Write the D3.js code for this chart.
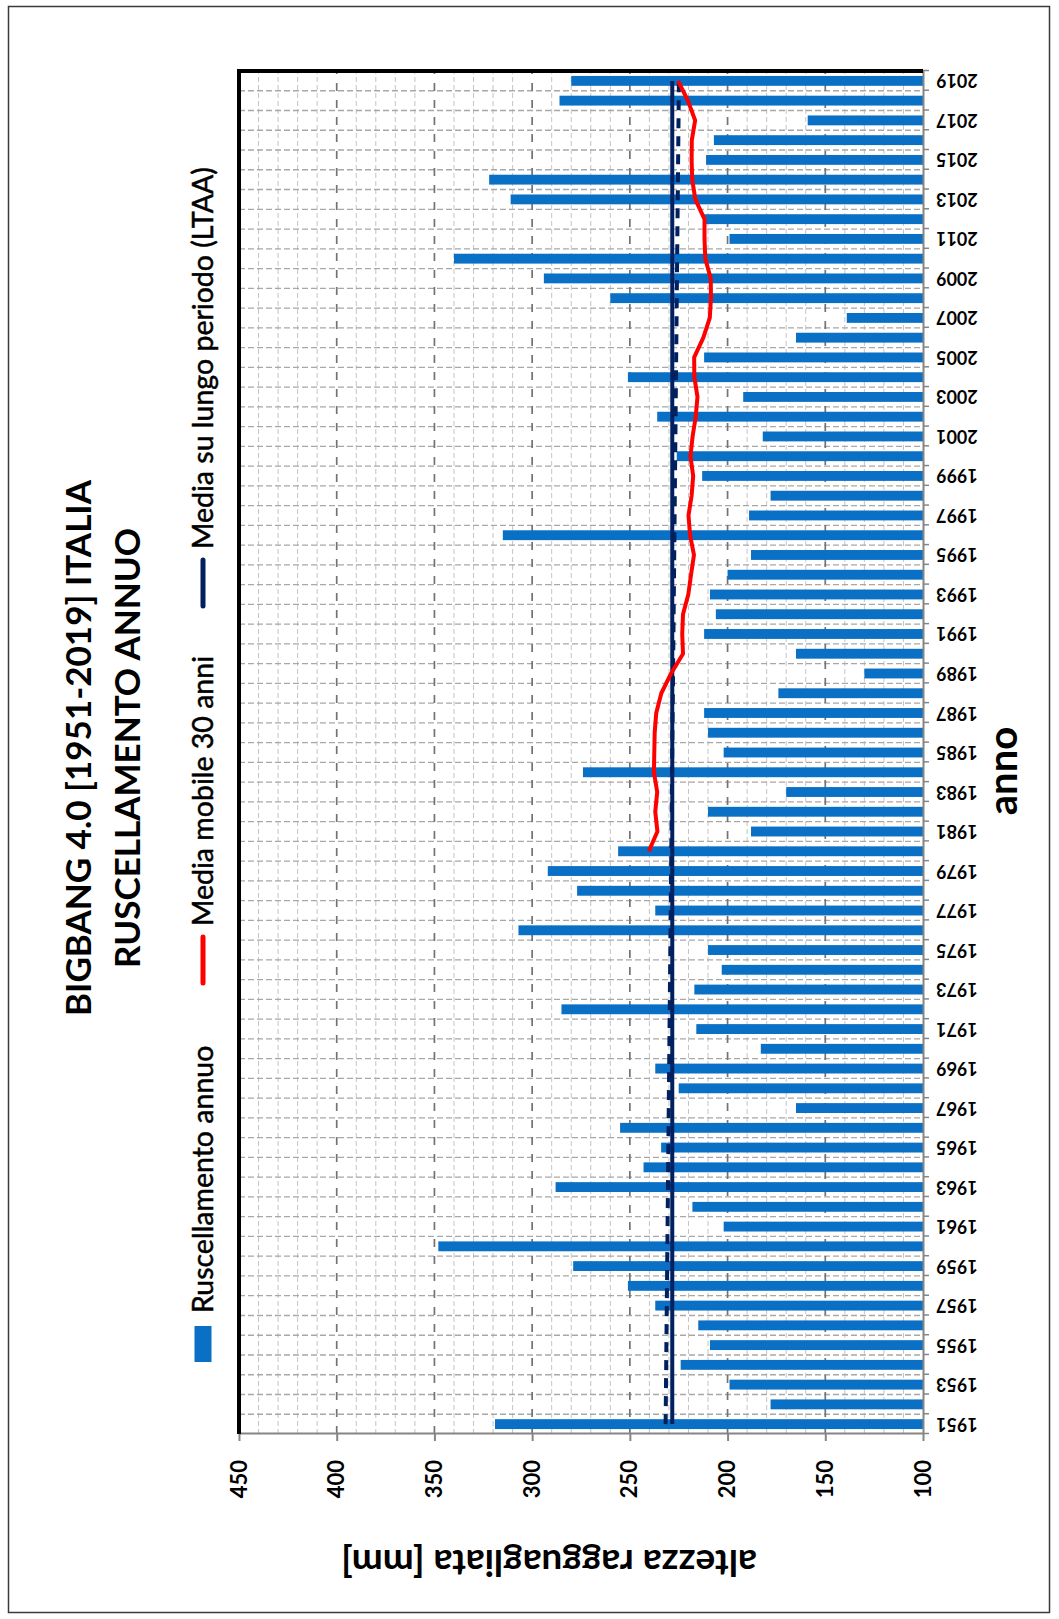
<!DOCTYPE html>
<html>
<head>
<meta charset="utf-8">
<script src="https://cdn.jsdelivr.net/npm/d3@7"></script>
<style>
  html, body { margin: 0; padding: 0; background: #ffffff; }
  svg { display: block; }
  text { font-family: Lato, "Open Sans", "Liberation Sans", sans-serif; }
</style>
</head>
<body>
<svg id="chart" width="1059" height="1619"></svg>
<script>
// ---------------- DATA ----------------
const years = d3.range(1951, 2020);
const runoff = [
  319, 178, 199, 224, 209, 215, 237, 251, 279, 348,
  202, 218, 288, 243, 234, 255, 165, 225, 237, 183,
  216, 285, 217, 203, 210, 307, 237, 277, 292, 256,
  188, 210, 170, 274, 202, 210, 212, 174, 130, 165,
  212, 206, 209, 200, 188, 315, 189, 178, 213, 226,
  182, 236, 192, 251, 212, 165, 139, 260, 294, 340,
  199, 212, 311, 322, 211, 207, 159, 286, 280
];
const maYears = d3.range(1980, 2020);
const movingAvg = [
  240.3, 235.9, 237.0, 236.0, 237.7, 237.5, 237.3, 236.5, 233.9, 228.9,
  222.8, 223.2, 222.8, 220.1, 218.7, 217.2, 219.2, 220.0, 218.4, 217.6,
  219.0, 217.9, 216.3, 215.4, 217.0, 217.1, 212.4, 209.1, 208.5, 208.6,
  211.4, 211.8, 211.8, 216.5, 218.1, 218.4, 218.3, 216.6, 220.3, 225.3
];
const ltaaValue = 228.3;
const trendYears = [1951, 2019];
const trendValues = [231.7, 224.9];
const valueTicks = [100, 150, 200, 250, 300, 350, 400, 450];
const yearLabels = years.filter(y => y % 2 === 1);
const titleLines = ["BIGBANG 4.0 [1951-2019] ITALIA", "RUSCELLAMENTO ANNUO"];
const legendLabels = ["Ruscellamento annuo", "Media mobile 30 anni", "Media su lungo periodo (LTAA)"];
const yAxisTitle = "altezza ragguagliata [mm]";
const xAxisTitle = "anno";

// ---------------- COLORS ----------------
const BAR = "#0A70C6", RED = "#FF0000", NAVY = "#002060";

const svg = d3.select("#chart");
svg.append("rect").attr("width", 1059).attr("height", 1619).attr("fill", "#fff");
// outer frame
svg.append("rect").attr("x", 8.5).attr("y", 6.5).attr("width", 1041).attr("height", 1606)
  .attr("fill", "none").attr("stroke", "#3a3a3a").attr("stroke-width", 1.5);

// chart drawn in its natural orientation, then rotated 90° counter-clockwise
const g = svg.append("g").attr("transform", `translate(0,${1619}) rotate(-90)`);

const plot = {left: 185, right: 1548, top: 239, bottom: 923};

const x = d3.scaleBand().domain(years).range([plot.left, plot.right])
  .paddingInner(0.5).paddingOuter(0.25);
const y = d3.scaleLinear().domain([100, 450]).range([plot.bottom, plot.top]);
const xb = d3.scaleLinear().domain([0, years.length]).range([plot.left, plot.right]);

// minor value gridlines
const minorVals = d3.range(110, 451, 10).filter(v => v % 50 !== 0);
g.append("g").selectAll("line").data(minorVals).join("line")
  .attr("x1", plot.left).attr("x2", plot.right)
  .attr("y1", d => y(d)).attr("y2", d => y(d))
  .attr("stroke", "#c4c4c4").attr("stroke-width", 1).attr("stroke-dasharray", "5,3");

// category gridlines (between years)
g.append("g").selectAll("line").data(d3.range(1, years.length)).join("line")
  .attr("x1", d => xb(d)).attr("x2", d => xb(d))
  .attr("y1", plot.top).attr("y2", plot.bottom)
  .attr("stroke", "#a8a8a8").attr("stroke-width", 1.3).attr("stroke-dasharray", "6,3");

// major value gridlines
g.append("g").selectAll("line").data(valueTicks.filter(v => v > 100 && v < 450)).join("line")
  .attr("x1", plot.left).attr("x2", plot.right)
  .attr("y1", d => y(d)).attr("y2", d => y(d))
  .attr("stroke", "#737373").attr("stroke-width", 1.7).attr("stroke-dasharray", "8,9");

// bars
g.append("g").selectAll("rect").data(years).join("rect")
  .attr("x", d => x(d))
  .attr("width", x.bandwidth())
  .attr("y", (d, i) => y(runoff[i]))
  .attr("height", (d, i) => y(100) - y(runoff[i]))
  .attr("fill", BAR);

// LTAA line
const cx = d => x(d) + x.bandwidth() / 2;
g.append("line")
  .attr("x1", cx(years[0])).attr("x2", cx(years[years.length - 1]))
  .attr("y1", y(ltaaValue)).attr("y2", y(ltaaValue))
  .attr("stroke", NAVY).attr("stroke-width", 4);
// trend line (dashed)
g.append("path")
  .datum(trendYears.map((yr, i) => [yr, trendValues[i]]))
  .attr("d", d3.line().x(d => cx(d[0])).y(d => y(d[1])))
  .attr("fill", "none").attr("stroke", NAVY).attr("stroke-width", 4)
  .attr("stroke-dasharray", "10,8");
// moving average
g.append("path")
  .datum(maYears.map((yr, i) => [yr, movingAvg[i]]))
  .attr("d", d3.line().x(d => cx(d[0])).y(d => y(d[1])))
  .attr("fill", "none").attr("stroke", RED).attr("stroke-width", 4)
  .attr("stroke-linejoin", "round");

// value axis (left in chart orientation)
const yAxis = g.append("g").attr("transform", `translate(${plot.left},0)`)
  .call(d3.axisLeft(y).tickValues(valueTicks).tickSize(7).tickSizeOuter(0).tickPadding(19));
yAxis.select(".domain").attr("stroke", "#858585").attr("stroke-width", 2);
yAxis.selectAll(".tick line").attr("stroke", "#858585").attr("stroke-width", 2);
yAxis.selectAll(".tick text").attr("font-size", 22).attr("font-weight", 700).attr("fill", "#000")
  .style("font-family", "Lato, 'Open Sans', sans-serif");

// category axis (bottom in chart orientation): ticks between categories
const xTicks = g.append("g").attr("transform", `translate(0,${plot.bottom})`)
  .call(d3.axisBottom(xb).tickValues(d3.range(0, years.length + 1)).tickSize(6).tickSizeOuter(0).tickFormat(""));
xTicks.select(".domain").attr("stroke", "#858585").attr("stroke-width", 2);
xTicks.selectAll(".tick line").attr("stroke", "#858585").attr("stroke-width", 1.5);

const xLab = g.append("g").attr("transform", `translate(0,${plot.bottom})`)
  .call(d3.axisBottom(x).tickValues(yearLabels).tickSize(0).tickFormat(d3.format("d")));
xLab.select(".domain").remove();
xLab.selectAll(".tick text")
  .attr("transform", "rotate(-90)")
  .attr("text-anchor", "end")
  .attr("x", -13).attr("y", 0).attr("dy", "0.36em")
  .attr("font-size", 18).attr("font-weight", 700).attr("fill", "#000")
  .style("font-family", "Lato, 'Open Sans', sans-serif");

// plot frame (top & right thick black)
g.append("path")
  .attr("d", `M${plot.left},${plot.top}H${plot.right}V${plot.bottom}`)
  .attr("fill", "none").attr("stroke", "#000").attr("stroke-width", 4);

// titles
g.append("g").selectAll("text").data(titleLines).join("text")
  .attr("x", 871).attr("y", (d, i) => 79 + i * 49).attr("dy", "0.35em")
  .attr("text-anchor", "middle").attr("font-size", 35).attr("font-weight", 700)
  .attr("fill", "#000").text(d => d);

// axis titles
g.append("text").attr("transform", `translate(56,549) rotate(-90)`)
  .attr("text-anchor", "middle").attr("dy", "0.35em")
  .attr("font-size", 37).attr("font-weight", 700).attr("fill", "#000").text(yAxisTitle);
g.append("text").attr("x", 848).attr("y", 1003).attr("dy", "0.35em")
  .attr("text-anchor", "middle").attr("font-size", 40).attr("font-weight", 700)
  .attr("fill", "#000").text(xAxisTitle);

// legend
const lg = g.append("g").attr("transform", "translate(0,203)");
lg.append("rect").attr("x", 257).attr("y", -8.5).attr("width", 36).attr("height", 17).attr("fill", BAR);
lg.append("line").attr("x1", 636).attr("x2", 682).attr("y1", 0).attr("y2", 0)
  .attr("stroke", RED).attr("stroke-width", 5).attr("stroke-linecap", "round");
lg.append("line").attr("x1", 1013).attr("x2", 1059).attr("y1", 0).attr("y2", 0)
  .attr("stroke", NAVY).attr("stroke-width", 5).attr("stroke-linecap", "round");
const legX = [306, 693, 1070];
lg.selectAll("text.leg").data(legendLabels).join("text").attr("class", "leg")
  .attr("x", (d, i) => legX[i]).attr("y", 0).attr("dy", "0.35em")
  .attr("font-size", 28.5).attr("font-weight", 400).attr("fill", "#000")
  .attr("stroke", "#000").attr("stroke-width", 0.5)
  .text(d => d);
</script>
</body>
</html>
